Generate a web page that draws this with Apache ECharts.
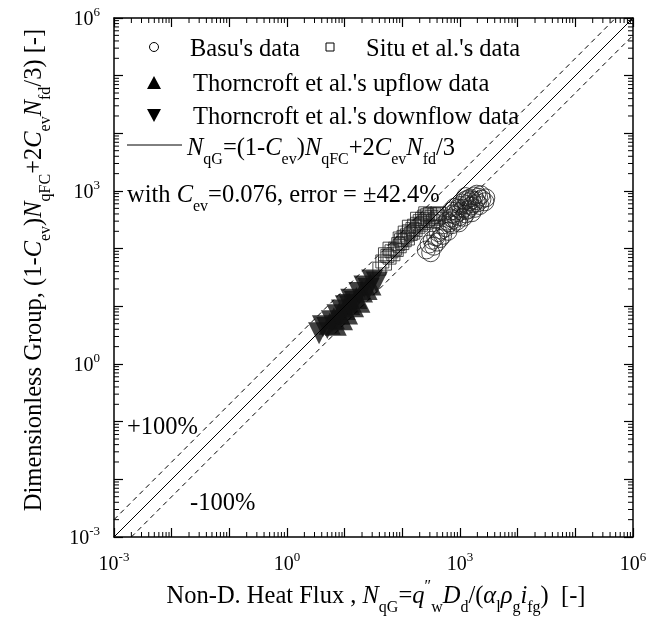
<!DOCTYPE html>
<html>
<head>
    <meta charset="utf-8">
    <title>NqG correlation</title>
    <script src="https://cdn.jsdelivr.net/npm/echarts@6/dist/echarts.min.js"></script>
    <style>
        html, body { margin: 0; padding: 0; background: #fff; }
    </style>
</head>
<body>
<div id="main" style="width: 666px;height:620px;"></div>
<script type="text/javascript">

    // Basu's data (open circles): [NqG, dimensionless group]
    var basuData = [
        [260, 95], [290, 120], [310, 85], [330, 140], [350, 110], [380, 160], [400, 130],
        [420, 190], [450, 150], [480, 210], [500, 170], [520, 260], [560, 230], [600, 300],
        [620, 200], [650, 280], [700, 340], [720, 260], [750, 400], [780, 320], [820, 380],
        [850, 450], [880, 300], [900, 420], [950, 500], [980, 360], [1000, 560], [1050, 450],
        [1100, 620], [1150, 500], [1200, 680], [1250, 400], [1300, 580], [1350, 720], [1400, 480],
        [1450, 650], [1500, 760], [1550, 550], [1600, 700], [1700, 600], [1750, 820], [1800, 500],
        [1900, 680], [2000, 620], [2100, 780], [2200, 560], [2400, 720], [2700, 650], [1150, 350],
        [950, 280], [1300, 460], [700, 450], [1600, 420], [2300, 860], [800, 520], [1950, 880],
        [2800, 760], [1250, 800]
    ];

    // Situ et al.'s data (open squares)
    var situData = [
        [40, 45], [45, 60], [50, 55], [55, 75], [60, 70], [65, 90], [70, 80], [75, 100],
        [80, 95], [85, 120], [90, 110], [95, 140], [100, 125], [105, 160], [110, 140], [120, 170],
        [125, 150], [130, 200], [140, 180], [150, 220], [155, 190], [160, 250], [170, 210], [180, 270],
        [190, 240], [200, 300], [210, 260], [220, 330], [230, 280], [240, 360], [250, 300], [270, 380],
        [280, 320], [300, 400], [320, 350], [340, 300], [360, 390], [380, 330], [400, 410], [420, 360],
        [440, 400], [60, 100], [90, 150], [130, 240], [180, 330], [250, 410], [50, 80], [110, 190]
    ];

    // Thorncroft et al.'s upflow data (filled up triangles)
    var upflowData = [
        [5.5, 5.0], [6.5, 6.2], [7.0, 4.8], [8.0, 7.5], [9.0, 6.0], [10, 9.0], [11, 7.5],
        [12, 11], [14, 10], [16, 14], [18, 12], [20, 18], [24, 20], [28, 24]
    ];

    // Thorncroft et al.'s downflow data (filled down triangles)
    var downflowData = [
        [3.6, 3.4], [4.2, 4.5], [5.0, 4.2], [6.0, 5.5], [7.5, 7.0], [9.0, 8.5], [10.5, 10],
        [12, 10.5], [13, 13], [15, 12], [18, 17], [22, 22], [26, 20], [30, 28], [36, 26]
    ];

    // correlation line and +/-100% bands
    var fitLine = [[0.001, 0.001], [1e6, 1e6]];
    var upperBand = [[0.001, 0.002], [5e5, 1e6]];
    var lowerBand = [[0.002, 0.001], [1e6, 5e5]];

    // minor log ticks: multipliers within each decade
    var decades = [-3, -2, -1, 0, 1, 2, 3, 4, 5];
    var multipliers = [2, 3, 4, 5, 6, 7, 8, 9];

    var minorTicks = [];
    decades.forEach(function (d) {
        multipliers.forEach(function (m) {
            minorTicks.push([m * Math.pow(10, d), m * Math.pow(10, d)]);
        });
    });

    var FONT = 'Liberation Serif';
    var myChart = echarts.init(document.getElementById('main'));

    function tickLabel(value) {
        var e = Math.round(Math.log(value) / Math.LN10);
        if (e % 3 !== 0) return '';
        return '{b|10}{s|' + e + '}';
    }

    var tickRich = {
        b: {fontFamily: FONT, fontSize: 20, lineHeight: 24, color: '#000', verticalAlign: 'bottom'},
        s: {fontFamily: FONT, fontSize: 13, lineHeight: 12, color: '#000', verticalAlign: 'top'}
    };

    function richSet(size, sub) {
        return {
            n: {fontFamily: FONT, fontSize: size, lineHeight: size + 6, fill: '#000', verticalAlign: 'bottom'},
            i: {fontFamily: FONT, fontSize: size, lineHeight: size + 6, fill: '#000', fontStyle: 'italic', verticalAlign: 'bottom'},
            s: {fontFamily: FONT, fontSize: sub, lineHeight: 12, fill: '#000', verticalAlign: 'bottom', padding: [0, 0, -7, 0]},
            p: {fontFamily: FONT, fontSize: sub, lineHeight: 12, fill: '#000', verticalAlign: 'top'}
        };
    }
    var legendRich = richSet(24.5, 16);
    var titleRich = richSet(24.5, 16);

    function logAxis(pos, showLabel) {
        return {
            type: 'log',
            logBase: 10,
            min: 0.001,
            max: 1e6,
            position: pos,
            splitNumber: 9,
            axisLine: {show: true, onZero: false, lineStyle: {color: '#000', width: 1.5}},
            axisTick: {show: true, inside: true, length: 9, lineStyle: {color: '#000', width: 1.2}},
            minorTick: {show: false},
            splitLine: {show: false},
            axisLabel: {
                show: showLabel,
                formatter: tickLabel,
                rich: tickRich,
                margin: 14
            }
        };
    }

    var option = {
        animation: false,
        backgroundColor: '#fff',
        grid: {left: 114, top: 18, width: 519, height: 519},
        xAxis: [logAxis('bottom', true), logAxis('top', false)],
        yAxis: [logAxis('left', true), logAxis('right', false)],
        graphic: [
            // legend markers
            {type: 'circle', shape: {cx: 154, cy: 47, r: 4.5}, style: {fill: 'none', stroke: '#000', lineWidth: 1}},
            {type: 'rect', shape: {x: 326, y: 43, width: 8, height: 8}, style: {fill: 'none', stroke: '#000', lineWidth: 1}},
            {type: 'polygon', shape: {points: [[154, 76], [147, 89], [161, 89]]}, style: {fill: '#000'}},
            {type: 'polygon', shape: {points: [[147, 109], [161, 109], [154, 122]]}, style: {fill: '#000'}},
            {type: 'line', shape: {x1: 127, y1: 145, x2: 182, y2: 145}, style: {stroke: '#000', lineWidth: 1}},
            // legend texts
            {type: 'text', x: 190, y: 47, style: {text: "{n|Basu's data}", rich: legendRich, textVerticalAlign: 'middle'}},
            {type: 'text', x: 366, y: 47, style: {text: "{n|Situ et al.'s data}", rich: legendRich, textVerticalAlign: 'middle'}},
            {type: 'text', x: 193, y: 82, style: {text: "{n|Thorncroft et al.'s upflow data}", rich: legendRich, textVerticalAlign: 'middle'}},
            {type: 'text', x: 193, y: 115, style: {text: "{n|Thorncroft et al.'s downflow data}", rich: legendRich, textVerticalAlign: 'middle'}},
            {type: 'text', x: 187, y: 146, style: {
                text: '{i|N}{s|qG}{n|=(1-}{i|C}{s|ev}{n|)}{i|N}{s|qFC}{n|+2}{i|C}{s|ev}{i|N}{s|fd}{n|/3}',
                rich: legendRich, textVerticalAlign: 'middle'}},
            {type: 'text', x: 127, y: 193, style: {
                text: '{n|with }{i|C}{s|ev}{n|=0.076, error = ±42.4%}',
                rich: legendRich, textVerticalAlign: 'middle'}},
            // band labels
            {type: 'text', x: 127, y: 425, style: {text: '{n|+100%}', rich: legendRich, textVerticalAlign: 'middle'}},
            {type: 'text', x: 190, y: 501, style: {text: '{n|-100%}', rich: legendRich, textVerticalAlign: 'middle'}},
            // axis titles
            {type: 'text', x: 376, y: 594, style: {
                text: '{n|Non-D. Heat Flux , }{i|N}{s|qG}{n|=}{i|q}{p|″}{s|w}{i|D}{s|d}{n|/(}{i|α}{s|l}{i|ρ}{s|g}{i|i}{s|fg}{n|)  [-]}',
                rich: titleRich, textAlign: 'center', textVerticalAlign: 'middle'}},
            {type: 'text', x: 32, y: 270, rotation: Math.PI / 2, style: {
                text: '{n|Dimensionless Group, (1-}{i|C}{s|ev}{n|)}{i|N}{s|qFC}{n|+2}{i|C}{s|ev}{i|N}{s|fd}{n|/3) [-]}',
                rich: titleRich, textAlign: 'center', textVerticalAlign: 'middle'}}
        ],
        series: [
            {
                name: 'minor ticks',
                type: 'custom',
                silent: true,
                data: minorTicks,
                renderItem: function (params, api) {
                    var p = api.coord([api.value(0), api.value(1)]);
                    var cs = params.coordSys;
                    var L = 5;
                    var st = {stroke: '#000', lineWidth: 1};
                    return {
                        type: 'group',
                        children: [
                            {type: 'line', shape: {x1: p[0], y1: cs.y + cs.height, x2: p[0], y2: cs.y + cs.height - L}, style: st},
                            {type: 'line', shape: {x1: p[0], y1: cs.y, x2: p[0], y2: cs.y + L}, style: st},
                            {type: 'line', shape: {x1: cs.x, y1: p[1], x2: cs.x + L, y2: p[1]}, style: st},
                            {type: 'line', shape: {x1: cs.x + cs.width, y1: p[1], x2: cs.x + cs.width - L, y2: p[1]}, style: st}
                        ]
                    };
                }
            },
            {
                name: 'fit', type: 'line', data: fitLine, symbol: 'none', silent: true,
                lineStyle: {color: '#000', width: 1}
            },
            {
                name: '+100%', type: 'line', data: upperBand, symbol: 'none', silent: true,
                lineStyle: {color: '#000', width: 1, type: [5, 4]}
            },
            {
                name: '-100%', type: 'line', data: lowerBand, symbol: 'none', silent: true,
                lineStyle: {color: '#000', width: 1, type: [5, 4]}
            },
            {
                name: "Basu's data", type: 'scatter', data: basuData, symbol: 'circle', symbolSize: 18,
                itemStyle: {color: 'rgba(0,0,0,0)', borderColor: '#222', borderWidth: 1}
            },
            {
                name: "Situ et al.'s data", type: 'scatter', data: situData, symbol: 'rect', symbolSize: 13,
                itemStyle: {color: 'rgba(0,0,0,0)', borderColor: '#222', borderWidth: 1}
            },
            {
                name: "Thorncroft et al.'s upflow data", type: 'scatter', data: upflowData, symbol: 'triangle',
                symbolSize: 22, itemStyle: {color: '#111'}
            },
            {
                name: "Thorncroft et al.'s downflow data", type: 'scatter', data: downflowData, symbol: 'triangle',
                symbolSize: 22, symbolRotate: 180, itemStyle: {color: '#111'}
            }
        ]
    };

    myChart.setOption(option);

</script>
</body>
</html>
